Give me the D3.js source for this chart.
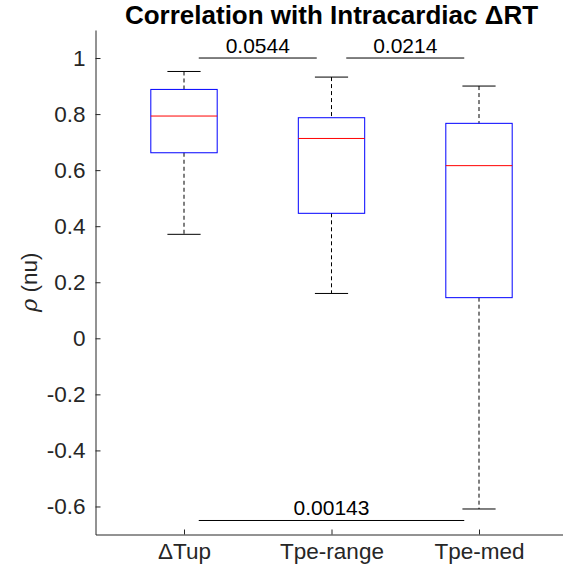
<!DOCTYPE html>
<html>
<head>
<meta charset="utf-8">
<script src="https://cdn.jsdelivr.net/npm/d3@7"></script>
<style>
  body { margin: 0; background: #fff; }
  text { font-family: "Liberation Sans", Arial, sans-serif; }
</style>
</head>
<body>
<div id="chart"></div>
<script>
// box plot summary per group
var categories = ["\u0394Tup", "Tpe-range", "Tpe-med"];
var upperWhisker = [0.952, 0.932, 0.900];
var q3 = [0.888, 0.787, 0.767];
var medians = [0.793, 0.713, 0.616];
var q1 = [0.662, 0.446, 0.145];
var lowerWhisker = [0.371, 0.160, -0.609];

// significance brackets: group pair, p-value label, height
var sigPairs = [[1, 2], [2, 3], [1, 3]];
var sigLabels = ["0.0544", "0.0214", "0.00143"];
var sigLevels = [1.0, 1.0, -0.65];

var yTicks = [-0.6, -0.4, -0.2, 0, 0.2, 0.4, 0.6, 0.8, 1];

var W = 563, H = 568;
var margin = {top: 30, left: 95.5, bottom: 534.5, right: 567.5};

var svg = d3.select("#chart").append("svg")
  .attr("width", W)
  .attr("height", H);

var x = d3.scaleLinear().domain([0.4, 3.6]).range([margin.left, margin.right]);
var y = d3.scaleLinear().domain([-0.7, 1.1]).range([margin.bottom, margin.top]);

var boxW = 0.45, capW = 0.225;
var axisColor = "#262626";

// Y axis
var yAxis = svg.append("g")
  .attr("transform", "translate(" + margin.left + ",0)")
  .call(d3.axisLeft(y)
    .tickValues(yTicks)
    .tickSizeInner(-5)
    .tickSizeOuter(0)
    .tickPadding(10)
    .tickFormat(function(d) { return String(+d.toFixed(1)); }));

// X axis
var xAxis = svg.append("g")
  .attr("transform", "translate(0," + margin.bottom + ")")
  .call(d3.axisBottom(x)
    .tickValues([1, 2, 3])
    .tickSizeInner(-5)
    .tickSizeOuter(0)
    .tickPadding(9)
    .tickFormat(function(d) { return categories[d - 1]; }));

[yAxis, xAxis].forEach(function(a) {
  a.selectAll("path, line").attr("stroke", axisColor).attr("stroke-width", 1);
  a.selectAll("text").attr("fill", axisColor)
    .style("font-family", "'Liberation Sans', Arial, sans-serif")
    .style("font-size", "22.5px");
});

var idx = d3.range(categories.length);

// whiskers (dashed)
svg.selectAll(".wUp").data(idx).enter().append("line")
  .attr("x1", function(i) { return x(i + 1); })
  .attr("x2", function(i) { return x(i + 1); })
  .attr("y1", function(i) { return y(upperWhisker[i]); })
  .attr("y2", function(i) { return y(q3[i]); })
  .attr("stroke", "#000").attr("stroke-dasharray", "4,3");
svg.selectAll(".wLo").data(idx).enter().append("line")
  .attr("x1", function(i) { return x(i + 1); })
  .attr("x2", function(i) { return x(i + 1); })
  .attr("y1", function(i) { return y(q1[i]); })
  .attr("y2", function(i) { return y(lowerWhisker[i]); })
  .attr("stroke", "#000").attr("stroke-dasharray", "4,3");

// caps
[upperWhisker, lowerWhisker].forEach(function(arr) {
  svg.append("g").selectAll("line").data(idx).enter().append("line")
    .attr("x1", function(i) { return x(i + 1 - capW / 2); })
    .attr("x2", function(i) { return x(i + 1 + capW / 2); })
    .attr("y1", function(i) { return y(arr[i]); })
    .attr("y2", function(i) { return y(arr[i]); })
    .attr("stroke", "#000");
});

// boxes
svg.selectAll(".box").data(idx).enter().append("rect")
  .attr("x", function(i) { return x(i + 1 - boxW / 2); })
  .attr("width", function(i) { return x(i + 1 + boxW / 2) - x(i + 1 - boxW / 2); })
  .attr("y", function(i) { return y(q3[i]); })
  .attr("height", function(i) { return y(q1[i]) - y(q3[i]); })
  .attr("fill", "none")
  .attr("stroke", "#0000ff");

// medians
svg.selectAll(".med").data(idx).enter().append("line")
  .attr("x1", function(i) { return x(i + 1 - boxW / 2); })
  .attr("x2", function(i) { return x(i + 1 + boxW / 2); })
  .attr("y1", function(i) { return y(medians[i]); })
  .attr("y2", function(i) { return y(medians[i]); })
  .attr("stroke", "#ff0000");

// significance lines + p values
var sig = svg.selectAll(".sig").data(d3.range(sigPairs.length)).enter().append("g");
sig.append("line")
  .attr("x1", function(k) { return x(sigPairs[k][0] + 0.1); })
  .attr("x2", function(k) { return x(sigPairs[k][1] - 0.1); })
  .attr("y1", function(k) { return y(sigLevels[k]); })
  .attr("y2", function(k) { return y(sigLevels[k]); })
  .attr("stroke", "#000");
sig.append("text")
  .attr("x", function(k) { return x((sigPairs[k][0] + sigPairs[k][1]) / 2); })
  .attr("y", function(k) { return y(sigLevels[k]) - 5; })
  .attr("text-anchor", "middle")
  .attr("font-size", "21px")
  .attr("fill", "#000")
  .text(function(k) { return sigLabels[k]; });

// title
svg.append("text")
  .attr("x", x(2))
  .attr("y", 24)
  .attr("text-anchor", "middle")
  .attr("font-size", "26px")
  .attr("font-weight", "bold")
  .attr("fill", "#000")
  .text("Correlation with Intracardiac \u0394RT");

// y label
var yl = svg.append("text")
  .attr("transform", "translate(37," + ((margin.top + margin.bottom) / 2) + ")rotate(-90)")
  .attr("text-anchor", "middle")
  .attr("font-size", "22.5px")
  .attr("fill", axisColor);
yl.append("tspan").attr("font-style", "italic").attr("font-family", "'DejaVu Serif', serif").text("\u03c1");
yl.append("tspan").text(" (nu)");
</script>
</body>
</html>
